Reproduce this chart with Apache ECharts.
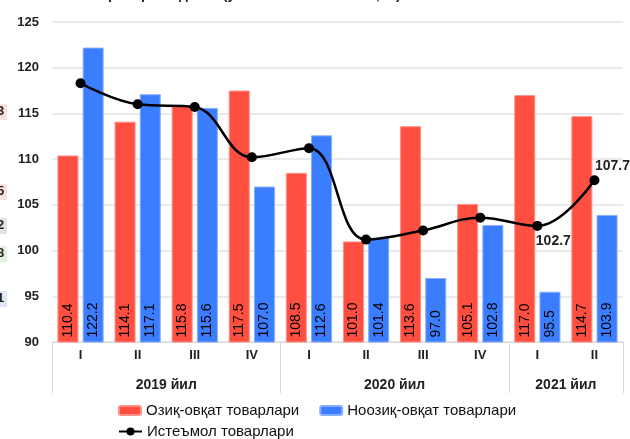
<!DOCTYPE html>
<html>
<head>
<meta charset="utf-8">
<script src="https://cdn.jsdelivr.net/npm/echarts@6/dist/echarts.min.js"></script>
<style>
  html, body { margin: 0; padding: 0; background: #fff; }
  #main { width: 630px; height: 439px; }
</style>
</head>
<body>
<div id="main"></div>
<script>
// quarters and year groups
let quarters = ['I', 'II', 'III', 'IV', 'I', 'II', 'III', 'IV', 'I', 'II'];
let yearSlots = ['', '', '2019 йил', '', '', '', '2020 йил', '', '', '2021 йил', ''];
let groupEdges = [0, 4, 8, 10];

let foodName = 'Озиқ-овқат товарлари';
let nonFoodName = 'Ноозиқ-овқат товарлари';
let consumerName = 'Истеъмол товарлари';

let foodValues = [110.4, 114.1, 115.8, 117.5, 108.5, 101.0, 113.6, 105.1, 117.0, 114.7];
let nonFoodValues = [122.2, 117.1, 115.6, 107.0, 112.6, 101.4, 97.0, 102.8, 95.5, 103.9];
let consumerValues = [118.3, 116.0, 115.7, 110.2, 111.2, 101.2, 102.2, 103.6, 102.7, 107.7];

const FONT = '"Liberation Sans", Arial, sans-serif';
let dom = document.getElementById('main');
let myChart = echarts.init(dom, null, { renderer: 'canvas' });

let barLabel = {
  show: true,
  position: 'insideBottom',
  rotate: 90,
  align: 'left',
  verticalAlign: 'middle',
  distance: 5,
  fontFamily: FONT,
  fontSize: 14,
  color: '#000',
  formatter: (p) => p.value.toFixed(1)
};

// only the last two points of the line are labelled
let lineData = consumerValues.map((v, i) => {
  if (i === 8) {
    return { value: v, label: { show: true, position: 'bottom', offset: [16, -2] } };
  }
  if (i === 9) {
    return { value: v, label: { show: true, position: 'top', offset: [18, 3] } };
  }
  return v;
});

// fragments of the neighbouring picture cut off at the left edge
let sideBits = [
  { y: 112, t: '3', c: '#fbe1d9' },
  { y: 192, t: '5', c: '#fbe1d9' },
  { y: 226, t: '2', c: '#e2e2e2' },
  { y: 254, t: '8', c: '#e4f0dc' },
  { y: 299, t: '1', c: '#dfe7f6' }
];
let graphics = [];
sideBits.forEach((b) => {
  graphics.push({
    type: 'rect', left: -10, top: b.y - 8, shape: { width: 17, height: 16 },
    style: { fill: b.c }, silent: true
  });
  graphics.push({
    type: 'text', left: -3, top: b.y - 7,
    style: { text: b.t, fontFamily: FONT, fontSize: 13, fontWeight: 'bold', fill: '#222' }, silent: true
  });
});
graphics.push({
  type: 'text', left: 18, top: -12,
  style: { text: 'Истеъмол нархлари индекси (ўтган йилга нисбатан, %)', fontFamily: FONT, fontSize: 14, fontWeight: 'bold', fill: '#222' },
  silent: true
});

let option = {
  animation: false,
  backgroundColor: '#fff',
  textStyle: { fontFamily: FONT },
  graphic: graphics,
  grid: { left: 52, right: 7, top: 22, bottom: 97 },
  legend: [
    {
      data: [foodName, nonFoodName],
      left: 118, top: 403, padding: 0,
      itemWidth: 22, itemHeight: 9, itemGap: 20,
      textStyle: { fontFamily: FONT, fontSize: 15, color: '#111' }
    },
    {
      data: [consumerName],
      left: 118, top: 424, padding: 0,
      itemWidth: 23, itemHeight: 10,
      textStyle: { fontFamily: FONT, fontSize: 15, color: '#111' }
    }
  ],
  xAxis: [
    {
      type: 'category',
      data: quarters,
      axisLine: { lineStyle: { color: '#d9d9d9', width: 1 } },
      axisTick: { show: false },
      axisLabel: { margin: 7, fontFamily: FONT, fontSize: 13, fontWeight: 'bold', color: '#222' }
    },
    {
      type: 'category',
      data: yearSlots,
      position: 'bottom',
      boundaryGap: false,
      axisLine: { show: false },
      axisTick: {
        show: true,
        length: 51,
        interval: (idx) => groupEdges.indexOf(idx) >= 0,
        lineStyle: { color: '#d9d9d9', width: 1 }
      },
      axisLabel: {
        interval: 0, margin: 36,
        fontFamily: FONT, fontSize: 14, fontWeight: 'bold', color: '#222'
      },
      splitLine: { show: false }
    }
  ],
  yAxis: {
    type: 'value',
    min: 90, max: 125, interval: 5,
    axisLine: { show: false },
    axisTick: { show: false },
    axisLabel: { margin: 13, fontFamily: FONT, fontSize: 13, fontWeight: 'bold', color: '#222' },
    splitLine: { lineStyle: { color: '#e3e3e3', width: 1.5 } }
  },
  series: [
    {
      name: foodName,
      type: 'bar',
      data: foodValues,
      barWidth: 21,
      barGap: '20%',
      itemStyle: { color: '#ff4f41', borderColor: '#ff8f86', borderWidth: 1 },
      label: barLabel
    },
    {
      name: nonFoodName,
      type: 'bar',
      data: nonFoodValues,
      barWidth: 21,
      barGap: '20%',
      itemStyle: { color: '#3b7dff', borderColor: '#86aefc', borderWidth: 1 },
      label: barLabel
    },
    {
      name: consumerName,
      type: 'line',
      data: lineData,
      smooth: 0.4,
      symbol: 'circle',
      symbolSize: 10,
      z: 5,
      lineStyle: { color: '#000', width: 2.5 },
      itemStyle: { color: '#000' },
      label: { show: false, fontFamily: FONT, fontSize: 14, fontWeight: 'bold', color: '#222',
        formatter: (p) => p.value.toFixed(1) }
    }
  ]
};

myChart.setOption(option);
</script>
</body>
</html>
